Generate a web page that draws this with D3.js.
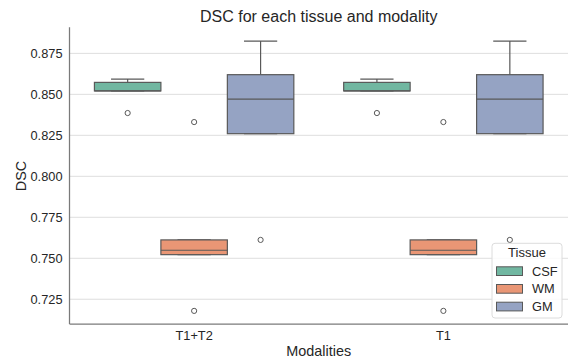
<!DOCTYPE html>
<html>
<head>
<meta charset="utf-8">
<script src="https://cdn.jsdelivr.net/npm/d3@7"></script>
<style>
  body { margin: 0; background: #fff; }
  svg text { font-family: "Liberation Sans", Arial, sans-serif; fill: #262626; }
</style>
</head>
<body>
<div id="chart"></div>
<script>
const w = 568;
const h = 360;

// datos
const modalities = ["T1+T2", "T1"];
const tissues = ["CSF", "WM", "GM"];
const colors = ["#71b7a1", "#e99675", "#95a3c3"];
const yTicks = [0.725, 0.75, 0.775, 0.8, 0.825, 0.85, 0.875];

// estadisticas por tejido (iguales en ambas modalidades)
const whiskLow = [0.8521, 0.7522, 0.8260];
const q1 = [0.8521, 0.7522, 0.8260];
const median = [0.8521, 0.7549, 0.8471];
const q3 = [0.8573, 0.7612, 0.8620];
const whiskHigh = [0.8593, 0.7612, 0.8825];
const outliers = [[0.8386], [0.8331, 0.7179], [0.7612]];

const pLeft = 69.5, pRight = 568, pTop = 27.3, pBottom = 324;
const lineColor = "#595959";

const svg = d3.select("#chart").append("svg").attr("width", w).attr("height", h);

const xScale = d3.scaleBand().domain(modalities).range([pLeft, pRight]);
const hueScale = d3.scaleBand().domain(tissues).range([0, xScale.bandwidth() * 0.8]);
const yScale = d3.scaleLinear().domain([0.7099, 0.8909]).range([pBottom, pTop]);

// grilla
svg.append("g")
  .selectAll("line")
  .data(yTicks)
  .enter()
  .append("line")
  .attr("x1", pLeft).attr("x2", pRight)
  .attr("y1", (d) => yScale(d)).attr("y2", (d) => yScale(d))
  .attr("stroke", "#dedede").attr("stroke-width", 1);

// eje y
const yAxis = d3.axisLeft(yScale).tickValues(yTicks).tickFormat(d3.format(".3f")).tickSize(0).tickPadding(7);
const gy = svg.append("g").attr("transform", `translate(${pLeft},0)`).call(yAxis);
gy.select(".domain").remove();
gy.selectAll("text").style("font-size", "12.8px").attr("fill", "#262626");

// eje x
const xAxis = d3.axisBottom(xScale).tickSize(0).tickPadding(7);
const gx = svg.append("g").attr("transform", `translate(0,${pBottom})`).call(xAxis);
gx.select(".domain").remove();
gx.selectAll("text").style("font-size", "12.8px").attr("fill", "#262626");

// cajas
const boxes = [];
modalities.forEach((m) => {
  tissues.forEach((t, i) => boxes.push({ m, i }));
});

const bw = hueScale.bandwidth();
const xPos = (d) => xScale(d.m) + xScale.bandwidth() * 0.1 + hueScale(tissues[d.i]);

const g = svg.selectAll(".box").data(boxes).enter().append("g").attr("class", "box");

// bigotes
g.append("line")
  .attr("x1", (d) => xPos(d) + bw / 2).attr("x2", (d) => xPos(d) + bw / 2)
  .attr("y1", (d) => yScale(q3[d.i])).attr("y2", (d) => yScale(whiskHigh[d.i]))
  .attr("stroke", lineColor).attr("stroke-width", 1.2);
g.append("line")
  .attr("x1", (d) => xPos(d) + bw / 2).attr("x2", (d) => xPos(d) + bw / 2)
  .attr("y1", (d) => yScale(q1[d.i])).attr("y2", (d) => yScale(whiskLow[d.i]))
  .attr("stroke", lineColor).attr("stroke-width", 1.2);
g.append("line")
  .attr("x1", (d) => xPos(d) + bw / 4).attr("x2", (d) => xPos(d) + bw * 0.75)
  .attr("y1", (d) => yScale(whiskHigh[d.i])).attr("y2", (d) => yScale(whiskHigh[d.i]))
  .attr("stroke", lineColor).attr("stroke-width", 1.2);
g.append("line")
  .attr("x1", (d) => xPos(d) + bw / 4).attr("x2", (d) => xPos(d) + bw * 0.75)
  .attr("y1", (d) => yScale(whiskLow[d.i])).attr("y2", (d) => yScale(whiskLow[d.i]))
  .attr("stroke", lineColor).attr("stroke-width", 1.2);

g.append("rect")
  .attr("x", (d) => xPos(d))
  .attr("y", (d) => yScale(q3[d.i]))
  .attr("width", bw)
  .attr("height", (d) => yScale(q1[d.i]) - yScale(q3[d.i]))
  .attr("fill", (d) => colors[d.i])
  .attr("stroke", lineColor).attr("stroke-width", 1.2);

g.append("line")
  .attr("x1", (d) => xPos(d)).attr("x2", (d) => xPos(d) + bw)
  .attr("y1", (d) => yScale(median[d.i])).attr("y2", (d) => yScale(median[d.i]))
  .attr("stroke", lineColor).attr("stroke-width", 1.2);

g.selectAll("circle")
  .data((d) => outliers[d.i].map((v) => ({ v, d })))
  .enter()
  .append("circle")
  .attr("cx", (o) => xPos(o.d) + bw / 2)
  .attr("cy", (o) => yScale(o.v))
  .attr("r", 2.6)
  .attr("fill", "none")
  .attr("stroke", lineColor).attr("stroke-width", 1);

// ejes (spines)
svg.append("line").attr("x1", pLeft).attr("x2", pLeft).attr("y1", pTop).attr("y2", pBottom)
  .attr("stroke", "#7a7a7a").attr("stroke-width", 1.25);
svg.append("line").attr("x1", pLeft).attr("x2", pRight).attr("y1", pBottom).attr("y2", pBottom)
  .attr("stroke", "#7a7a7a").attr("stroke-width", 1.25);

// titulos
svg.append("text").attr("x", (pLeft + pRight) / 2).attr("y", 21.5)
  .attr("text-anchor", "middle").style("font-size", "16px")
  .text("DSC for each tissue and modality");
svg.append("text").attr("x", (pLeft + pRight) / 2).attr("y", 356)
  .attr("text-anchor", "middle").style("font-size", "14.4px")
  .text("Modalities");
svg.append("text").attr("transform", `translate(26,176) rotate(-90)`)
  .attr("text-anchor", "middle").style("font-size", "14.4px")
  .text("DSC");

// leyenda
const lg = svg.append("g").attr("transform", "translate(492,243.3)");
lg.append("rect").attr("width", 70).attr("height", 74.7).attr("rx", 3)
  .attr("fill", "#fff").attr("fill-opacity", 0.85).attr("stroke", "#dcdcdc");
lg.append("text").attr("x", 35).attr("y", 14).attr("text-anchor", "middle")
  .style("font-size", "13px").text("Tissue");
const items = lg.selectAll(".item").data(tissues).enter().append("g")
  .attr("transform", (d, i) => `translate(4.5,${23.5 + i * 17.7})`);
items.append("rect").attr("width", 26).attr("height", 8.7)
  .attr("fill", (d, i) => colors[i]).attr("stroke", lineColor).attr("stroke-width", 1);
items.append("text").attr("x", 35.5).attr("y", 8.8).style("font-size", "12.8px").text((d) => d);
</script>
</body>
</html>
